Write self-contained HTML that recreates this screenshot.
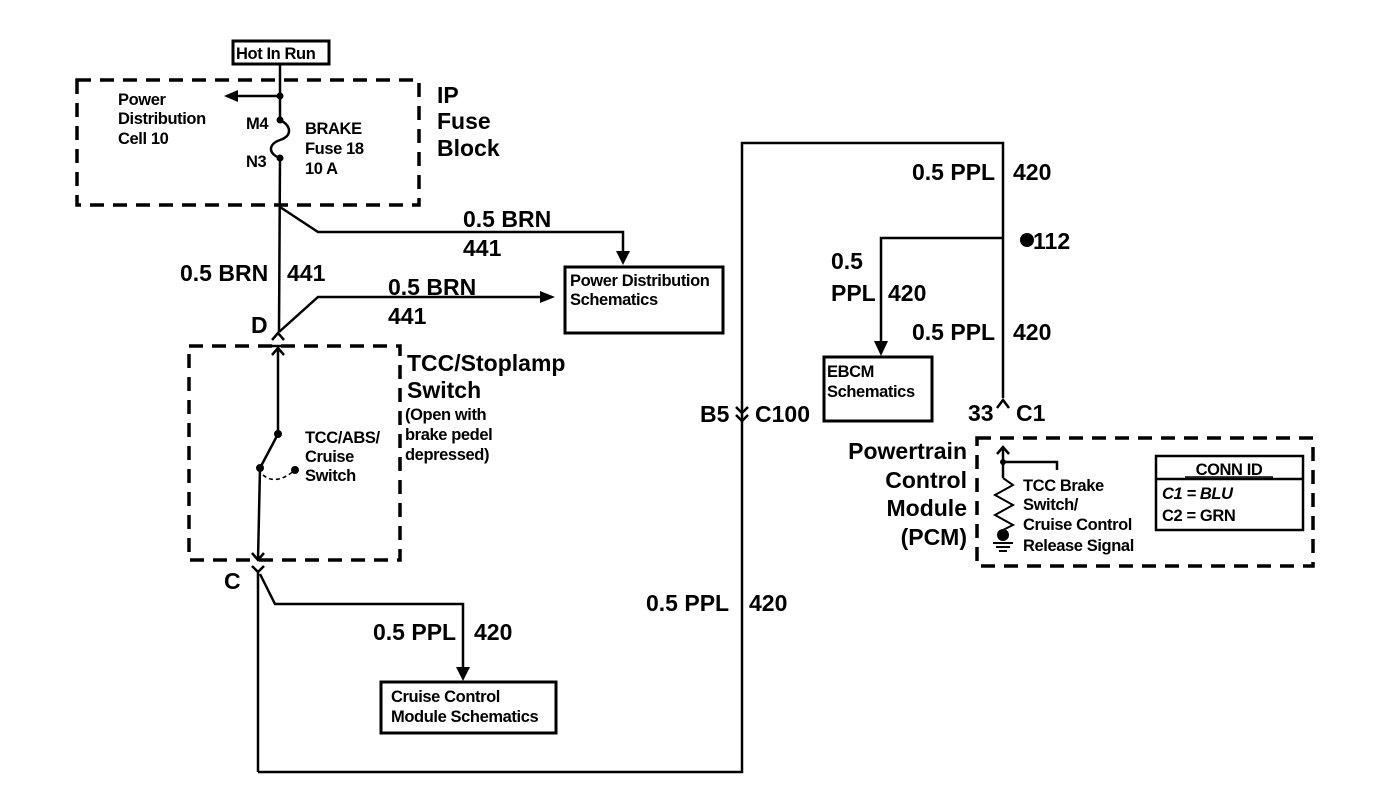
<!DOCTYPE html>
<html><head><meta charset="utf-8"><style>
html,body{margin:0;padding:0;background:#fff}
svg{display:block}
text{font-family:"Liberation Sans",Arial,sans-serif;fill:#000;font-weight:bold}
.s{font-size:16.5px;letter-spacing:-0.4px}
.m{font-size:23px}
.l{font-size:23px}
</style></head><body>
<svg width="1376" height="790" viewBox="0 0 1376 790" xmlns="http://www.w3.org/2000/svg">
<g fill="none" stroke="#000" stroke-width="2.5">
<rect x="233" y="41" width="96" height="23" stroke-width="3"/>
<rect x="77" y="80" width="342" height="125" stroke-dasharray="14,9" stroke-width="3.5"/>
<rect x="189" y="346" width="211" height="214" stroke-dasharray="14,9" stroke-width="3.5"/>
<rect x="977" y="438" width="336" height="128" stroke-dasharray="14,9" stroke-width="3.5"/>
<rect x="565" y="267" width="158" height="66" stroke-width="3"/>
<rect x="381" y="682" width="175" height="51" stroke-width="3"/>
<rect x="824" y="357" width="108" height="64" stroke-width="3"/>
<rect x="1156" y="456" width="147" height="74" stroke-width="2.5"/>
<line x1="1156" y1="479" x2="1303" y2="479"/>
<line x1="280" y1="64" x2="280" y2="120"/>
<line x1="280" y1="96" x2="236" y2="96"/>
<path d="M280 120 C292 126 292 136 280 140 C268 144 268 154 280 158"/>
<line x1="280" y1="158" x2="279" y2="332"/>
<polyline points="280,207 318,232 623,232 623,256"/>
<polyline points="279,332 318,297 543,297"/>
<polyline points="272,340 278,333 284,340"/>
<line x1="270" y1="346" x2="286" y2="346"/>
<polyline points="272,355 278,348 284,355"/>
<line x1="278" y1="348" x2="278" y2="434"/>
<line x1="278" y1="434" x2="260" y2="468"/>
<line x1="260" y1="468" x2="258" y2="560"/>
<path d="M263 475 Q276 486 295 470" stroke-dasharray="4,3" stroke-width="1.5"/>
<polyline points="252,553 258,560 264,553"/>
<polyline points="252,566 258,572 264,566"/>
<line x1="258" y1="572" x2="258" y2="772"/>
<polyline points="260,574 275,604 463,604 463,670"/>
<polyline points="258,772 742,772 742,143 1003,143 1003,398"/>
<polyline points="736,407 742,413 748,407"/>
<polyline points="736,415 742,421 748,415"/>
<polyline points="1003,238 881,238 881,345"/>
<polyline points="997,408 1003,400 1009,408"/>
<line x1="1003" y1="448" x2="1003" y2="478"/>
<polyline points="997,454 1003,447 1009,454"/>
<polyline points="1003,462 1057,462 1057,470"/>
<polyline points="1003,478 1013,485 995,495 1013,505 995,515 1013,525 1003,530" stroke-width="2"/>
<line x1="993" y1="543" x2="1013" y2="543" stroke-width="2"/>
<line x1="996" y1="547" x2="1010" y2="547" stroke-width="2"/>
<line x1="999" y1="551" x2="1007" y2="551" stroke-width="2"/>
</g>
<g fill="#000">
<polygon points="224,96 238,90 238,102"/>
<circle cx="280" cy="96" r="3.5"/>
<circle cx="280" cy="120" r="3.5"/>
<circle cx="280" cy="158" r="3.5"/>
<polygon points="616,251 630,251 623,265"/>
<polygon points="540,291 540,303 555,297"/>
<circle cx="278" cy="434" r="4"/>
<circle cx="260" cy="468" r="4"/>
<circle cx="295" cy="470" r="4"/>
<polygon points="456,667 470,667 463,681"/>
<polygon points="874,341 888,341 881,356"/>
<circle cx="1027" cy="240" r="7"/>
<circle cx="1003" cy="462" r="3"/>
<circle cx="1003" cy="535" r="6"/>
</g>
<text x="236" y="59" class="s">Hot In Run</text>
<text x="118" y="105" class="s">Power</text>
<text x="118" y="124" class="s">Distribution</text>
<text x="118" y="144" class="s">Cell 10</text>
<text x="246" y="129" class="s">M4</text>
<text x="246" y="167" class="s">N3</text>
<text x="305" y="134" class="s">BRAKE</text>
<text x="305" y="154" class="s">Fuse 18</text>
<text x="305" y="174" class="s">10 A</text>
<text x="437" y="103" class="l">IP</text>
<text x="437" y="129" class="l">Fuse</text>
<text x="437" y="156" class="l">Block</text>
<text x="463" y="227" class="m">0.5 BRN</text>
<text x="463" y="256" class="m">441</text>
<text x="180" y="281" class="m">0.5 BRN</text>
<text x="287" y="281" class="m">441</text>
<text x="388" y="295" class="m">0.5 BRN</text>
<text x="388" y="324" class="m">441</text>
<text x="251" y="333" class="m">D</text>
<text x="570" y="286" class="s">Power Distribution</text>
<text x="570" y="305" class="s">Schematics</text>
<text x="407" y="371" class="l">TCC/Stoplamp</text>
<text x="407" y="398" class="l">Switch</text>
<text x="405" y="420" class="s">(Open with</text>
<text x="405" y="440" class="s">brake pedel</text>
<text x="405" y="460" class="s">depressed)</text>
<text x="305" y="443" class="s">TCC/ABS/</text>
<text x="305" y="462" class="s">Cruise</text>
<text x="305" y="481" class="s">Switch</text>
<text x="224" y="589" class="m">C</text>
<text x="373" y="640" class="m">0.5 PPL</text>
<text x="474" y="640" class="m">420</text>
<text x="391" y="702" class="s">Cruise Control</text>
<text x="391" y="722" class="s">Module Schematics</text>
<text x="646" y="611" class="m">0.5 PPL</text>
<text x="749" y="611" class="m">420</text>
<text x="700" y="422" class="m">B5</text>
<text x="755" y="422" class="m">C100</text>
<text x="912" y="180" class="m">0.5 PPL</text>
<text x="1013" y="180" class="m">420</text>
<text x="1033" y="249" class="m">112</text>
<text x="831" y="269" class="m">0.5</text>
<text x="831" y="301" class="m">PPL</text>
<text x="888" y="301" class="m">420</text>
<text x="912" y="340" class="m">0.5 PPL</text>
<text x="1013" y="340" class="m">420</text>
<text x="827" y="377" class="s">EBCM</text>
<text x="827" y="397" class="s">Schematics</text>
<text x="968" y="421" class="m">33</text>
<text x="1016" y="421" class="m">C1</text>
<text x="967" y="459" class="l" text-anchor="end">Powertrain</text>
<text x="967" y="488" class="l" text-anchor="end">Control</text>
<text x="967" y="516" class="l" text-anchor="end">Module</text>
<text x="967" y="545" class="l" text-anchor="end">(PCM)</text>
<text x="1023" y="491" class="s">TCC Brake</text>
<text x="1023" y="510" class="s">Switch/</text>
<text x="1023" y="530" class="s">Cruise Control</text>
<text x="1023" y="551" class="s">Release Signal</text>
<text x="1229" y="475" class="s" text-anchor="middle">CONN ID</text>
<line x1="1185" y1="477" x2="1273" y2="477" stroke="#000" stroke-width="1.5"/>
<text x="1162" y="499" class="s" font-style="italic">C1 = BLU</text>
<text x="1162" y="521" class="s">C2 = GRN</text>
</svg>
</body></html>
